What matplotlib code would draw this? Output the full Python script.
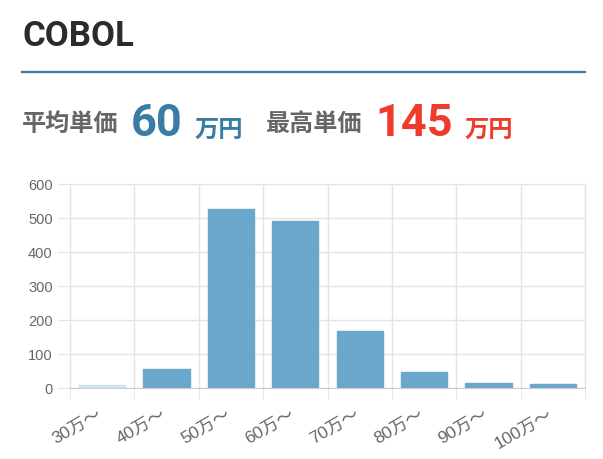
import matplotlib
matplotlib.use('Agg')
import matplotlib.pyplot as plt
import matplotlib.transforms as mtransforms

# データ
title = 'COBOL'
avg_label = '平均単価'
avg_value = '60'
max_label = '最高単価'
max_value = '145'
unit = '万円'
categories = ['30万〜', '40万〜', '50万〜', '60万〜', '70万〜', '80万〜', '90万〜', '100万〜']
counts = [6, 55, 527, 491, 167, 46, 14, 10]
y_ticks = [0, 100, 200, 300, 400, 500, 600]

W, H = 603, 460
BLUE = '#3a7ca5'
RED = '#ef3b2c'
GRAY = '#666666'
GRID = '#e4e4e4'
BAR = '#6aa7cb'
BAR_LIGHT = '#cfe3ef'

plt.rcParams['font.family'] = ['Liberation Sans', 'Noto Sans CJK JP']

fig = plt.figure(figsize=(W / 100, H / 100), dpi=100)
fig.patch.set_facecolor('white')


def px(x, y):
    return x / W, 1 - y / H


# ヘッダー
fig.text(*px(22, 46), title, fontsize=25, fontweight='bold', color='#2b2b2b',
         family=['Roboto', 'DejaVu Sans'], va='baseline')
fig.add_artist(plt.Line2D([22 / W, 585 / W], [1 - 73 / H, 1 - 73 / H], color=BLUE, linewidth=1.6))

fig.text(*px(22, 131), avg_label, fontsize=17.4, fontweight='bold', color=GRAY,
         family=['Noto Sans CJK JP'], va='baseline')
fig.text(*px(131, 136.5), avg_value, fontsize=32.5, fontweight='bold', color=BLUE,
         family=['Roboto'], va='baseline')
fig.text(*px(195, 137), unit, fontsize=17.5, fontweight='bold', color=BLUE,
         family=['Noto Sans CJK JP'], va='baseline')

fig.text(*px(266, 131), max_label, fontsize=17.4, fontweight='bold', color=GRAY,
         family=['Noto Sans CJK JP'], va='baseline')
fig.text(*px(375, 136.5), max_value, fontsize=32.5, fontweight='bold', color=RED,
         family=['Roboto'], va='baseline')
fig.text(*px(465, 137), unit, fontsize=17.5, fontweight='bold', color=RED,
         family=['Noto Sans CJK JP'], va='baseline')

# グラフ
left, right, top, bottom = 70, 585, 185, 388.5
ax = fig.add_axes([left / W, 1 - bottom / H, (right - left) / W, (bottom - top) / H])

x = list(range(len(categories)))
colors = [BAR_LIGHT] + [BAR] * (len(categories) - 1)
ax.bar(x, counts, width=0.72, color=colors, edgecolor=colors, linewidth=1, zorder=2)

ax.set_xlim(-0.5, len(categories) - 0.5)
ax.set_ylim(0, 600)
ax.set_yticks(y_ticks)
ax.set_xticks(x)
ax.set_xticklabels(categories, fontsize=12.5)
ax.set_xticks([i - 0.5 for i in range(len(categories) + 1)], minor=True)

ax.grid(True, which='major', axis='y', color=GRID, linewidth=1, zorder=0)
ax.grid(True, which='minor', axis='x', color=GRID, linewidth=1, zorder=0)
ax.set_axisbelow(True)

for s in ['top', 'right', 'left']:
    ax.spines[s].set_color(GRID)
ax.spines['bottom'].set_color('#cccccc')

ax.tick_params(axis='y', length=9, color=GRID, labelcolor=GRAY, labelsize=10.5, pad=3.5)
ax.tick_params(axis='x', which='major', length=0, labelcolor=GRAY, pad=18)
ax.tick_params(axis='x', which='minor', length=8, color=GRID)

offset = mtransforms.ScaledTranslation(-2 / 100, 0, fig.dpi_scale_trans)
for lbl in ax.get_xticklabels():
    lbl.set_rotation(30)
    lbl.set_ha('right')
    lbl.set_va('center')
    lbl.set_rotation_mode('anchor')
    lbl.set_transform(lbl.get_transform() + offset)

fig.savefig('out.png', dpi=100)
